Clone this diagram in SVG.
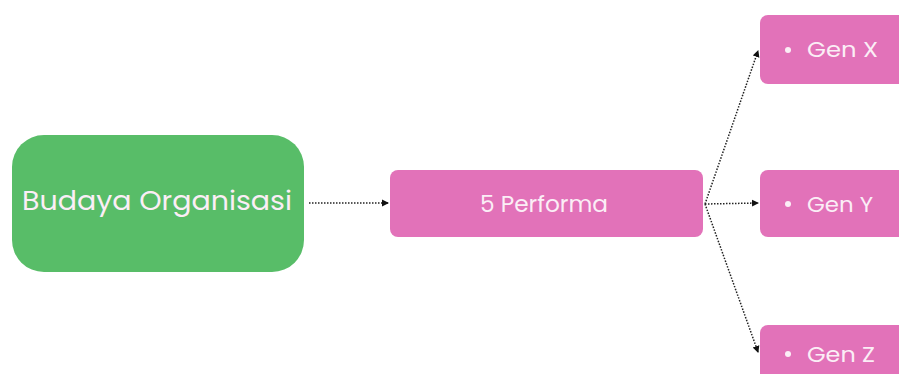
<svg xmlns="http://www.w3.org/2000/svg" width="899" height="374" viewBox="0 0 899 374">
<defs>
<style>
.pink{fill:#e272b9}
.lbl{font-family:"Poppins","Lato","Liberation Sans",sans-serif;fill:#fbeef6}
.con{stroke:#222;stroke-width:1.5;stroke-dasharray:1.5 1.5;fill:none}
</style>
<marker id="ah" markerWidth="8" markerHeight="8" refX="6" refY="4" orient="auto" markerUnits="userSpaceOnUse">
<path d="M0,0.5 L7,4 L0,7.5 Z" fill="#111"/>
</marker>
</defs>
<rect width="899" height="374" fill="#fff"/>
<g id="connectors">
<line class="con" x1="309" y1="203" x2="388" y2="203" marker-end="url(#ah)"/>
<line class="con" x1="705" y1="204" x2="758" y2="203" marker-end="url(#ah)"/>
<line class="con" x1="705" y1="204" x2="758" y2="51" marker-end="url(#ah)"/>
<line class="con" x1="705" y1="204" x2="758" y2="352" marker-end="url(#ah)"/>
</g>
<g id="budaya">
<rect x="12" y="135" width="292" height="137" rx="32" fill="#58bd68"/>
<text class="lbl" x="22" y="210" font-size="26" textLength="270" lengthAdjust="spacingAndGlyphs" fill="#f2fbf2">Budaya Organisasi</text>
</g>
<g id="performa">
<rect class="pink" x="390" y="170" width="313" height="67" rx="8"/>
<text class="lbl" x="480" y="212" font-size="23" textLength="128" lengthAdjust="spacingAndGlyphs">5 Performa</text>
</g>
<g id="genx">
<rect class="pink" x="760" y="15" width="150" height="69" rx="8"/>
<circle cx="788" cy="50" r="3" fill="#fbeef6"/>
<text class="lbl" x="807" y="57" font-size="21" textLength="71" lengthAdjust="spacingAndGlyphs">Gen X</text>
</g>
<g id="geny">
<rect class="pink" x="760" y="170" width="150" height="67" rx="8"/>
<circle cx="788" cy="204" r="3" fill="#fbeef6"/>
<text class="lbl" x="807" y="212" font-size="21" textLength="66" lengthAdjust="spacingAndGlyphs">Gen Y</text>
</g>
<g id="genz">
<rect class="pink" x="760" y="325" width="150" height="69" rx="8"/>
<circle cx="788" cy="354" r="3" fill="#fbeef6"/>
<text class="lbl" x="807" y="362" font-size="21" textLength="68" lengthAdjust="spacingAndGlyphs">Gen Z</text>
</g>
</svg>
